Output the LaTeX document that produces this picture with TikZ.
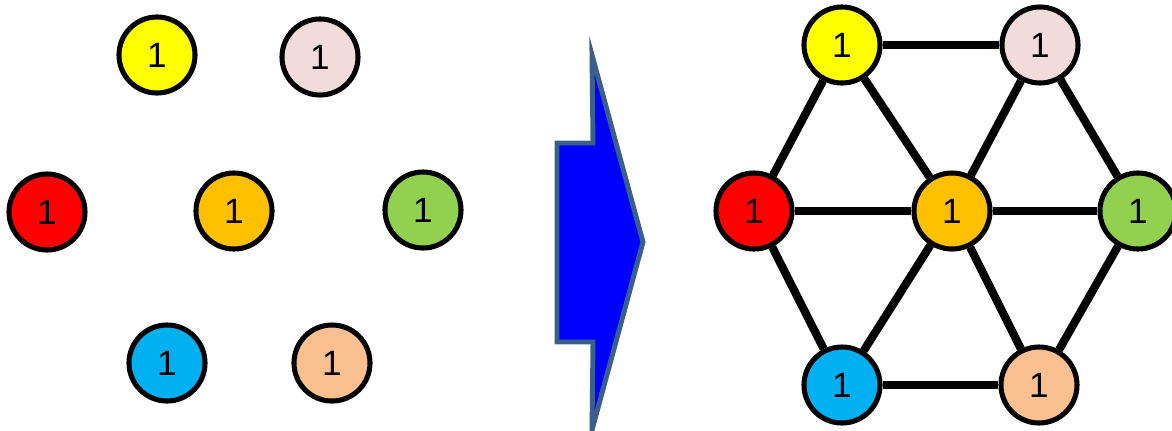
\documentclass[tikz,border=0pt]{standalone}
\usepackage{fontspec}
\setmainfont{Liberation Sans}
\usepackage{xcolor}
\usepackage{tikz}
\usetikzlibrary{positioning}

\definecolor{cyel}{HTML}{FFFF00}
\definecolor{cpink}{HTML}{F2DCDB}
\definecolor{cred}{HTML}{FF0000}
\definecolor{corange}{HTML}{FFC000}
\definecolor{cgreen}{HTML}{92D050}
\definecolor{cblue}{HTML}{00B0F0}
\definecolor{cpeach}{HTML}{FAC090}
\definecolor{arrowfill}{HTML}{0000FF}
\definecolor{arrowline}{HTML}{3A5F8B}

\begin{document}
\begin{tikzpicture}[
    x=0.025cm, y=-0.025cm,
    ball/.style={circle, draw, line width=3.6pt, minimum size=1.9cm, inner sep=0pt, font=\fontsize{25}{25}\selectfont},
    link/.style={line width=5.8pt}
]
    \useasboundingbox (0,0) rectangle (1172,430);

    % Before
    \node[ball, fill=cyel] (ly) at (157,55) {1};
    \node[ball, fill=cpink] (lp) at (320,57) {1};
    \node[ball, fill=cred] (lr) at (47,212) {1};
    \node[ball, fill=corange] (lo) at (234,211) {1};
    \node[ball, fill=cgreen] (lg) at (423,210) {1};
    \node[ball, fill=cblue] (lb) at (167,363) {1};
    \node[ball, fill=cpeach] (lc) at (332,363) {1};

    % Arrow
    \draw[line width=3.5pt, draw=arrowline, fill=arrowfill, line join=miter]
        (557,143) -- (593,143) -- (592,55) -- (643,242) -- (592,430)
        -- (593,342) -- (557,342) -- cycle;

    % After
    \node[ball, fill=cyel] (ry) at (842,45) {1};
    \node[ball, fill=cpink] (rp) at (1040,45) {1};
    \node[ball, fill=cred] (rr) at (754,211) {1};
    \node[ball, fill=corange] (ro) at (952,211) {1};
    \node[ball, fill=cgreen] (rg) at (1138,211) {1};
    \node[ball, fill=cblue] (rb) at (842,385) {1};
    \node[ball, fill=cpeach] (rc) at (1039,385) {1};

    \draw[link] (ry) -- (rp);
    \draw[link] (ry) -- (rr);
    \draw[link] (ry) -- (ro);
    \draw[link] (rp) -- (ro);
    \draw[link] (rp) -- (rg);
    \draw[link] (rr) -- (ro);
    \draw[link] (ro) -- (rg);
    \draw[link] (rr) -- (rb);
    \draw[link] (ro) -- (rb);
    \draw[link] (ro) -- (rc);
    \draw[link] (rg) -- (rc);
    \draw[link] (rb) -- (rc);
\end{tikzpicture}
\end{document}
